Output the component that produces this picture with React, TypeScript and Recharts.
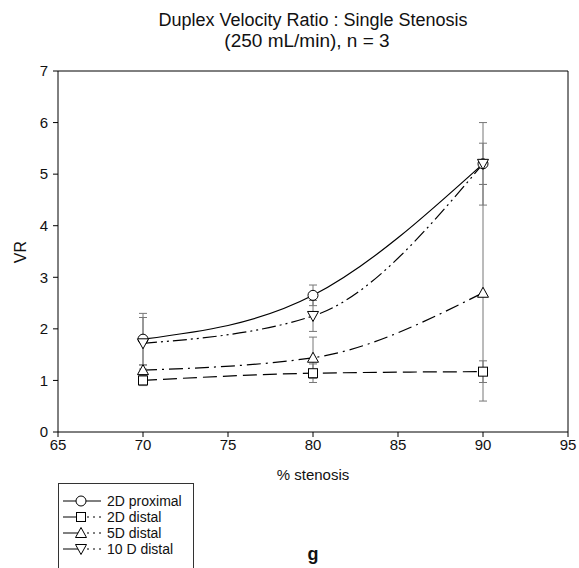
import { ComposedChart, Line, XAxis, YAxis, ErrorBar, ReferenceLine, Legend } from "recharts";

const stenosis = [70, 80, 90];
const xTicks = [65, 70, 75, 80, 85, 90, 95];
const yTicks = [0, 1, 2, 3, 4, 5, 6, 7];

const proximal2D = [1.8, 2.65, 5.2];
const proximal2DErr = [0.5, 0.2, 0.8];
const distal2D = [1.0, 1.14, 1.17];
const distal2DErr = [0.1, 0.18, 0.21];
const distal5D = [1.2, 1.44, 2.7];
const distal5DErr = [0.1, 0.4, 2.1];
const distal10D = [1.72, 2.25, 5.2];
const distal10DErr = [0.5, 0.3, 0.4];

const FONT = "'Liberation Sans', Arial, sans-serif";

const series = [
  { name: "2D proximal", values: proximal2D, errs: proximal2DErr, dash: undefined, shape: "circle" },
  { name: "2D distal", values: distal2D, errs: distal2DErr, dash: "14 6", shape: "square" },
  { name: "5D distal", values: distal5D, errs: distal5DErr, dash: "14 5 2 5", shape: "up" },
  { name: "10 D distal", values: distal10D, errs: distal10DErr, dash: "14 4 2 4 2 4", shape: "down" },
];

function Marker({ shape, x, y }: { shape: string; x: number; y: number }) {
  const p = { fill: "#fff", stroke: "#000", strokeWidth: 1 };
  if (shape === "circle") return <circle cx={x} cy={y} r={5} {...p} />;
  if (shape === "square") return <rect x={x - 4.5} y={y - 4.5} width={9} height={9} {...p} />;
  if (shape === "up") return <polygon points={`${x},${y - 5.5} ${x - 5.5},${y + 4.5} ${x + 5.5},${y + 4.5}`} {...p} />;
  return <polygon points={`${x},${y + 5.5} ${x - 5.5},${y - 4.5} ${x + 5.5},${y - 4.5}`} {...p} />;
}

const makeDot = (shape: string) => (props: any) => (
  <g key={props.index}>
    <Marker shape={shape} x={props.cx} y={props.cy} />
  </g>
);

function LegendBox() {
  return (
    <div style={{ border: "1px solid #333", width: 136, height: 86, boxSizing: "border-box", paddingTop: 9, fontFamily: FONT, fontSize: 14, background: "#fff" }}>
      {series.map((s) => (
        <div key={s.name} style={{ display: "flex", alignItems: "center", height: 16 }}>
          <svg width={44} height={14} style={{ marginLeft: 4 }}>
            <line x1={0} y1={7} x2={18} y2={7} stroke="#000" />
            <line x1={18} y1={7} x2={38} y2={7} stroke="#000" strokeDasharray={s.dash ? "2 4" : undefined} />
            <Marker shape={s.shape} x={18} y={7} />
          </svg>
          <span style={{ color: "#111" }}>{s.name}</span>
        </div>
      ))}
    </div>
  );
}

export default function App() {
  return (
    <div style={{ position: "absolute", left: 0, top: 0, width: 579, height: 568, background: "#fff" }}>
      <ComposedChart width={579} height={568} margin={{ top: 71, right: 11, bottom: 86, left: 18 }}>
        <XAxis
          dataKey="x"
          type="number"
          domain={[65, 95]}
          ticks={xTicks}
          allowDuplicatedCategory={false}
          stroke="#000"
          tickSize={5}
          height={50}
          tick={{ fill: "#111", fontSize: 15, fontFamily: FONT }}
          label={{ value: "% stenosis", position: "insideBottom", offset: 2, fill: "#111", fontSize: 15, fontFamily: FONT }}
        />
        <YAxis
          type="number"
          domain={[0, 7]}
          ticks={yTicks}
          stroke="#000"
          tickSize={5}
          tickMargin={5}
          width={40}
          tick={{ fill: "#111", fontSize: 15, fontFamily: FONT }}
        />
        <ReferenceLine y={7} stroke="#000" />
        <ReferenceLine x={95} stroke="#000" />
        {series.map((s) => (
          <Line
            key={s.name}
            name={s.name}
            data={stenosis.map((x, i) => ({ x, y: s.values[i], err: s.errs[i] }))}
            dataKey="y"
            type="monotone"
            stroke="#000"
            strokeWidth={1.2}
            strokeDasharray={s.dash}
            dot={makeDot(s.shape)}
            activeDot={false}
            isAnimationActive={false}
          >
            <ErrorBar dataKey="err" direction="y" width={4} stroke="#777" strokeWidth={1} />
          </Line>
        ))}
        <Legend
          layout="vertical"
          align="center"
          verticalAlign="middle"
          content={() => <LegendBox />}
          wrapperStyle={{ left: 58, top: 483, width: 136 }}
        />
      </ComposedChart>
      <svg width={579} height={568} style={{ position: "absolute", left: 0, top: 0, pointerEvents: "none" }}>
        <text x={313} y={26} textAnchor="middle" fontFamily={FONT} fontSize={18} fill="#111">
          Duplex Velocity Ratio : Single Stenosis
        </text>
        <text x={307} y={47} textAnchor="middle" fontFamily={FONT} fontSize={19} fill="#111">
          (250 mL/min), n = 3
        </text>
        <text x={26} y={252} textAnchor="middle" fontFamily={FONT} fontSize={16} fill="#111" transform="rotate(-90 26 252)">
          VR
        </text>
        <text x={313} y={560} textAnchor="middle" fontFamily={FONT} fontSize={18} fontWeight="bold" fill="#111">
          g
        </text>
      </svg>
    </div>
  );
}
